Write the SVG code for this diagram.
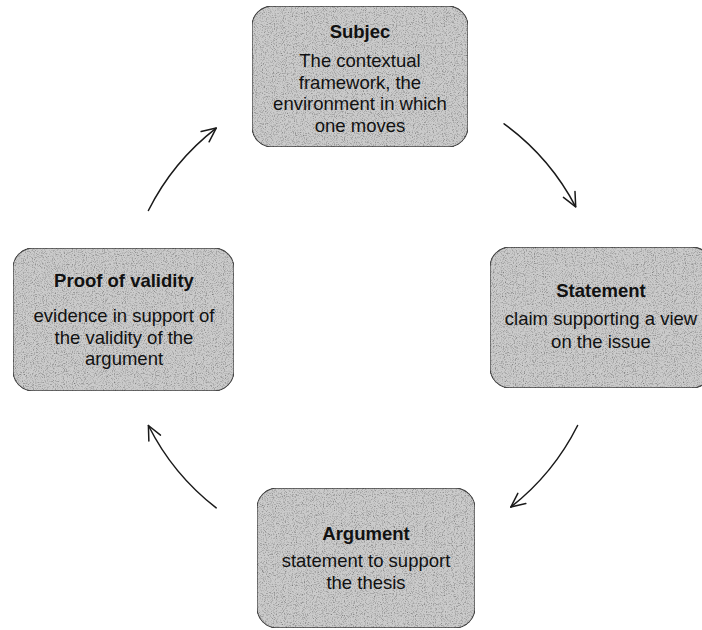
<svg xmlns="http://www.w3.org/2000/svg" width="702" height="630" viewBox="0 0 702 630">
  <defs>
    <!-- speckled grey texture for the boxes -->
    <filter id="grain" x="0" y="0" width="100%" height="100%" color-interpolation-filters="sRGB">
      <feTurbulence type="fractalNoise" baseFrequency="0.9" numOctaves="2" seed="7" result="noise"/>
      <feColorMatrix in="noise" type="saturate" values="0" result="grey"/>
      <feComponentTransfer in="grey" result="grain">
        <feFuncR type="linear" slope="1.2" intercept="0.38"/>
        <feFuncG type="linear" slope="1.2" intercept="0.38"/>
        <feFuncB type="linear" slope="1.2" intercept="0.38"/>
        <feFuncA type="linear" slope="0" intercept="1"/>
      </feComponentTransfer>
      <feBlend in="SourceGraphic" in2="grain" mode="multiply" result="tex"/>
      <feComposite in="tex" in2="SourceGraphic" operator="in"/>
    </filter>
    <marker id="head" markerUnits="userSpaceOnUse" markerWidth="20" markerHeight="20" refX="0" refY="0" viewBox="-16 -10 20 20" orient="auto" overflow="visible">
      <path d="M -14 -6.5 L 0 0 L -14 6.5" fill="none" stroke="#1a1a1a" stroke-width="1.5" stroke-linecap="round" stroke-linejoin="round"/>
    </marker>
  </defs>
  <style>
    .box { fill: #cbcbcb; stroke: #4a4a4a; stroke-width: 1.3; }
    .t { font-family: "Liberation Sans", Arial, sans-serif; font-size: 18.5px; fill: #111; text-anchor: middle; }
    .h { font-weight: bold; }
    .arc { fill: none; stroke: #1a1a1a; stroke-width: 1.5; stroke-linecap: round; marker-end: url(#head); }
  </style>

  <rect width="702" height="630" fill="#ffffff"/>

  <!-- cycle connectors, all on one circle centred at (363,318), r=240 -->
  <g id="connectors">
    <path class="arc" d="M 504.1 123.8 A 240 240 0 0 1 575.7 206.8"/>
    <path class="arc" d="M 577.6 425.5 A 240 240 0 0 1 510.8 507.1"/>
    <path class="arc" d="M 216.2 507.9 A 240 240 0 0 1 148.4 425.5"/>
    <path class="arc" d="M 148.4 210.5 A 240 240 0 0 1 216.2 128.1"/>
  </g>

  <g id="subject">
    <rect class="box" x="252" y="6" width="216" height="141" rx="20" filter="url(#grain)"/>
    <text class="t h" x="360" y="38">Subjec</text>
    <text class="t" x="360" y="67">The contextual</text>
    <text class="t" x="360" y="88.5">framework, the</text>
    <text class="t" x="360" y="110">environment in which</text>
    <text class="t" x="360" y="132">one moves</text>
  </g>

  <g id="statement">
    <rect class="box" x="490" y="247" width="222" height="141" rx="20" filter="url(#grain)"/>
    <text class="t h" x="601" y="297">Statement</text>
    <text class="t" x="601" y="325">claim supporting a view</text>
    <text class="t" x="601" y="348">on the issue</text>
  </g>

  <g id="argument">
    <rect class="box" x="257" y="488" width="218" height="140" rx="20" filter="url(#grain)"/>
    <text class="t h" x="366" y="540">Argument</text>
    <text class="t" x="366" y="567">statement to support</text>
    <text class="t" x="366" y="589">the thesis</text>
  </g>

  <g id="proof">
    <rect class="box" x="13" y="248" width="221" height="143" rx="20" filter="url(#grain)"/>
    <text class="t h" x="124" y="287">Proof of validity</text>
    <text class="t" x="124" y="322">evidence in support of</text>
    <text class="t" x="124" y="343.5">the validity of the</text>
    <text class="t" x="124" y="365">argument</text>
  </g>
</svg>
